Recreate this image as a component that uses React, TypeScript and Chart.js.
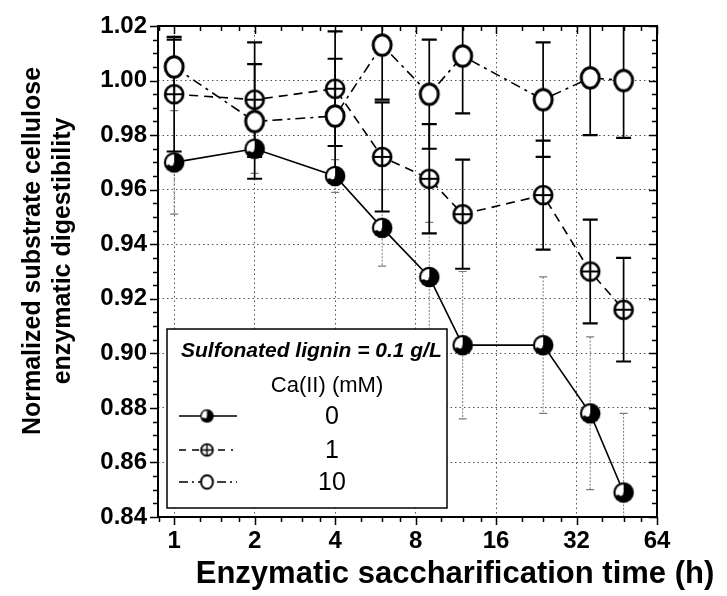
import React, { useEffect, useRef } from 'react';
import { Chart, registerables } from 'chart.js';

Chart.register(...registerables);

// ---------------- data ----------------
const times = [1, 2, 4, 6, 9, 12, 24, 36, 48];
const ca0 = [0.970, 0.975, 0.965, 0.946, 0.928, 0.903, 0.903, 0.878, 0.849];
const ca0Err = [0.019, 0.009, 0.006, 0.014, 0.020, 0.027, 0.025, 0.028, 0.029];
const ca1 = [0.995, 0.993, 0.997, 0.972, 0.964, 0.951, 0.958, 0.930, 0.916];
const ca1Err = [0.021, 0.021, 0.021, 0.020, 0.020, 0.020, 0.020, 0.019, 0.019];
const ca10 = [1.005, 0.985, 0.987, 1.013, 0.995, 1.009, 0.993, 1.001, 1.000];
const ca10Err = [0.010, 0.021, 0.021, 0.020, 0.020, 0.021, 0.021, 0.021, 0.021];

const xTicks = [1, 2, 4, 8, 16, 32, 64];
const yTicks = [0.84, 0.86, 0.88, 0.90, 0.92, 0.94, 0.96, 0.98, 1.00, 1.02];
const xMin = 0.87;
const xMax = 64;
const yMin = 0.84;
const yMax = 1.02;

const seriesLabels = ['0', '1', '10'];
const legendTitle = 'Sulfonated lignin = 0.1 g/L';
const legendSubtitle = 'Ca(II) (mM)';
const xTitle = 'Enzymatic saccharification time (h)';
const yTitle = ['Normalized substrate cellulose', 'enzymatic digestibility'];

const FONT = '"Liberation Sans", Arial, Helvetica, sans-serif';

type Kind = 'half' | 'cross' | 'open';

function makeMarker(kind: Kind, s: number): HTMLCanvasElement {
  const size = Math.ceil(28 * s);
  const c = document.createElement('canvas');
  c.width = size;
  c.height = size;
  const g = c.getContext('2d')!;
  const cx = size / 2;
  const cy = size / 2;
  g.strokeStyle = '#000';
  if (kind === 'half') {
    const r = 10.3 * s;
    g.beginPath();
    g.arc(cx, cy, r, 0, Math.PI * 2);
    g.fillStyle = '#000';
    g.fill();
    g.beginPath();
    g.moveTo(cx, cy);
    g.arc(cx, cy, r - 2.2 * s, Math.PI * 0.88, Math.PI * 1.5);
    g.closePath();
    g.fillStyle = '#fff';
    g.fill();
    g.beginPath();
    g.arc(cx - 2.8 * s, cy + 1 * s, 2.4 * s, 0, Math.PI * 2);
    g.fillStyle = '#fff';
    g.fill();
  } else if (kind === 'cross') {
    const r = 9 * s;
    g.beginPath();
    g.arc(cx, cy, r, 0, Math.PI * 2);
    g.fillStyle = '#fff';
    g.fill();
    g.lineWidth = 2.7 * s;
    g.stroke();
    g.lineWidth = 2.2 * s;
    g.beginPath();
    g.moveTo(cx - r, cy);
    g.lineTo(cx + r, cy);
    g.moveTo(cx, cy - r);
    g.lineTo(cx, cy + r);
    g.stroke();
  } else {
    g.beginPath();
    g.ellipse(cx, cy, 9 * s, 10.3 * s, 0, 0, Math.PI * 2);
    g.fillStyle = '#fff';
    g.fill();
    g.lineWidth = 3 * s;
    g.stroke();
  }
  return c;
}

const errs = [ca0Err, ca1Err, ca10Err];
const vals = [ca0, ca1, ca10];

const errorBarPlugin = {
  id: 'errorBars',
  beforeDatasetsDraw(chart: any) {
    const { ctx, chartArea: a, scales } = chart;
    const x = scales.x;
    const y = scales.y;
    ctx.save();
    ctx.beginPath();
    ctx.rect(a.left, a.top, a.right - a.left, a.bottom - a.top);
    ctx.clip();
    for (let d = 0; d < 3; d++) {
      const gray = d === 0;
      for (let j = 0; j < times.length; j++) {
        const px = x.getPixelForValue(times[j]);
        const v = vals[d][j];
        const e = errs[d][j];
        const yt = y.getPixelForValue(v + e);
        const yb = y.getPixelForValue(v - e);
        ctx.strokeStyle = gray ? '#7a7a7a' : '#000';
        ctx.lineWidth = gray ? 1 : 1.7;
        ctx.setLineDash(gray ? [2, 1.5] : []);
        ctx.beginPath();
        ctx.moveTo(px, yt);
        ctx.lineTo(px, yb);
        ctx.stroke();
        ctx.setLineDash([]);
        const hw = gray ? 4 : 7.5;
        ctx.lineWidth = gray ? 1.2 : 2.2;
        ctx.beginPath();
        ctx.moveTo(px - hw, yt);
        ctx.lineTo(px + hw, yt);
        ctx.moveTo(px - hw, yb);
        ctx.lineTo(px + hw, yb);
        ctx.stroke();
      }
    }
    ctx.restore();
  },
};

const frameTicksPlugin = {
  id: 'frameTicks',
  afterDatasetsDraw(chart: any) {
    const { ctx, chartArea: a, scales } = chart;
    const x = scales.x;
    const y = scales.y;
    ctx.save();
    ctx.strokeStyle = '#000';
    ctx.lineWidth = 1.5;
    const MAJ = 8;
    const MIN = 5;
    const xMinor: number[] = [];
    for (let b = 0.5; b < xMax; b *= 2) {
      for (const f of [1.25, 1.5, 1.75]) {
        const v = b * f;
        if (v > xMin && v < xMax) xMinor.push(v);
      }
    }
    const yMinor: number[] = [];
    for (let k = 0; k <= 36; k++) {
      const v = yMin + k * 0.005;
      if (k % 4 !== 0) yMinor.push(v);
    }
    ctx.beginPath();
    for (const v of xTicks) {
      const px = Math.round(x.getPixelForValue(v)) + 0.5;
      ctx.moveTo(px, a.bottom);
      ctx.lineTo(px, a.bottom + MAJ);
      ctx.moveTo(px, a.top);
      ctx.lineTo(px, a.top + MAJ);
    }
    for (const v of xMinor) {
      const px = Math.round(x.getPixelForValue(v)) + 0.5;
      ctx.moveTo(px, a.bottom);
      ctx.lineTo(px, a.bottom + MIN);
      ctx.moveTo(px, a.top);
      ctx.lineTo(px, a.top + MIN);
    }
    for (const v of yTicks) {
      const py = Math.round(y.getPixelForValue(v)) + 0.5;
      ctx.moveTo(a.left - MAJ, py);
      ctx.lineTo(a.left, py);
      ctx.moveTo(a.right - MAJ, py);
      ctx.lineTo(a.right, py);
    }
    for (const v of yMinor) {
      const py = Math.round(y.getPixelForValue(v)) + 0.5;
      ctx.moveTo(a.left - MIN, py);
      ctx.lineTo(a.left, py);
      ctx.moveTo(a.right - MIN, py);
      ctx.lineTo(a.right, py);
    }
    ctx.stroke();
    ctx.lineWidth = 2;
    ctx.strokeRect(a.left, a.top, a.right - a.left, a.bottom - a.top);
    ctx.restore();
  },
};

function makeTextPlugin(legendMarkers: HTMLCanvasElement[]) {
  return {
    id: 'textsLegend',
    afterDraw(chart: any) {
      const { ctx } = chart;
      ctx.save();
      ctx.fillStyle = '#000';
      // y title (two lines, rotated)
      ctx.font = `bold 25px ${FONT}`;
      ctx.textAlign = 'center';
      ctx.textBaseline = 'middle';
      const yCenters = [33, 63];
      yTitle.forEach((t, i) => {
        ctx.save();
        ctx.translate(yCenters[i], 251);
        ctx.rotate(-Math.PI / 2);
        ctx.fillText(t, 0, 0);
        ctx.restore();
      });
      // x title
      ctx.font = `bold 31px ${FONT}`;
      ctx.textBaseline = 'alphabetic';
      ctx.fillText(xTitle, 455, 583);

      // legend box
      const bx = 167, by = 329, bw = 280, bh = 179;
      ctx.fillStyle = '#fff';
      ctx.fillRect(bx, by, bw, bh);
      ctx.strokeStyle = '#000';
      ctx.lineWidth = 1.5;
      ctx.strokeRect(bx, by, bw, bh);
      ctx.fillStyle = '#000';
      ctx.font = `italic bold 21px ${FONT}`;
      ctx.textAlign = 'left';
      ctx.textBaseline = 'middle';
      ctx.fillText(legendTitle, 181, 351);
      ctx.font = `22px ${FONT}`;
      ctx.textAlign = 'center';
      ctx.fillText(legendSubtitle, 327, 386);
      const rowsY = [416, 450, 482];
      const dashes = [[], [7, 6], [9, 4, 2, 4]];
      ctx.font = `25px ${FONT}`;
      for (let i = 0; i < 3; i++) {
        const ry = rowsY[i];
        ctx.save();
        ctx.lineWidth = 1.6;
        ctx.setLineDash(dashes[i]);
        ctx.beginPath();
        ctx.moveTo(179, ry);
        ctx.lineTo(i === 1 ? 233 : 237, ry);
        ctx.stroke();
        ctx.restore();
        const m = legendMarkers[i];
        ctx.drawImage(m, 207 - m.width / 2, ry - m.height / 2);
        ctx.fillText(seriesLabels[i], 332, ry + 1);
      }
      ctx.restore();
    },
  };
}

export default function App() {
  const ref = useRef<HTMLCanvasElement>(null);
  useEffect(() => {
    const canvas = ref.current!;
    const mk: Kind[] = ['half', 'cross', 'open'];
    const markers = mk.map((k) => makeMarker(k, 1));
    const legendMarkers = mk.map((k) => makeMarker(k, 0.66));
    const dashList = [[], [9, 6], [10, 5, 3, 5]];
    const datasets = vals.map((arr, i) => ({
      label: seriesLabels[i],
      data: times.map((t, j) => ({ x: t, y: arr[j] })),
      borderColor: '#000',
      backgroundColor: '#000',
      borderWidth: 1.6,
      borderDash: dashList[i],
      pointStyle: markers[i],
      pointRadius: 10,
      pointHoverRadius: 10,
      fill: false,
      tension: 0,
    }));
    const chart = new Chart(canvas, {
      type: 'line',
      data: { datasets },
      options: {
        animation: false,
        responsive: false,
        devicePixelRatio: 1,
        events: [],
        layout: { padding: { left: 0, right: 70, top: 26, bottom: 0 } },
        plugins: {
          legend: { display: false },
          tooltip: { enabled: false },
        },
        scales: {
          x: {
            type: 'logarithmic',
            min: xMin,
            max: xMax,
            afterBuildTicks: (s: any) => {
              s.ticks = xTicks.map((v) => ({ value: v }));
            },
            afterFit: (s: any) => {
              s.height = 79;
            },
            ticks: {
              autoSkip: false,
              maxRotation: 0,
              minRotation: 0,
              padding: 10,
              color: '#000',
              font: { family: FONT, size: 24, weight: 'bold' },
              callback: (v: any) => String(v),
            },
            grid: {
              color: '#555',
              lineWidth: 1,
              drawTicks: false,
            },
            border: { display: false, dash: [1.5, 3] },
          },
          y: {
            type: 'linear',
            min: yMin,
            max: yMax,
            afterBuildTicks: (s: any) => {
              s.ticks = yTicks.map((v) => ({ value: v }));
            },
            afterFit: (s: any) => {
              s.width = 158;
            },
            ticks: {
              padding: 11,
              color: '#000',
              font: { family: FONT, size: 24, weight: 'bold' },
              callback: (v: any) => Number(v).toFixed(2),
            },
            grid: {
              color: '#555',
              lineWidth: 1,
              drawTicks: false,
            },
            border: { display: false, dash: [1.5, 3] },
          },
        },
      } as any,
      plugins: [errorBarPlugin, frameTicksPlugin, makeTextPlugin(legendMarkers)],
    });
    return () => chart.destroy();
  }, []);
  return (
    <div style={{ position: 'fixed', left: 0, top: 0, width: 727, height: 596, background: '#fff' }}>
      <canvas ref={ref} width={727} height={596} style={{ display: 'block', width: 727, height: 596 }} />
    </div>
  );
}
